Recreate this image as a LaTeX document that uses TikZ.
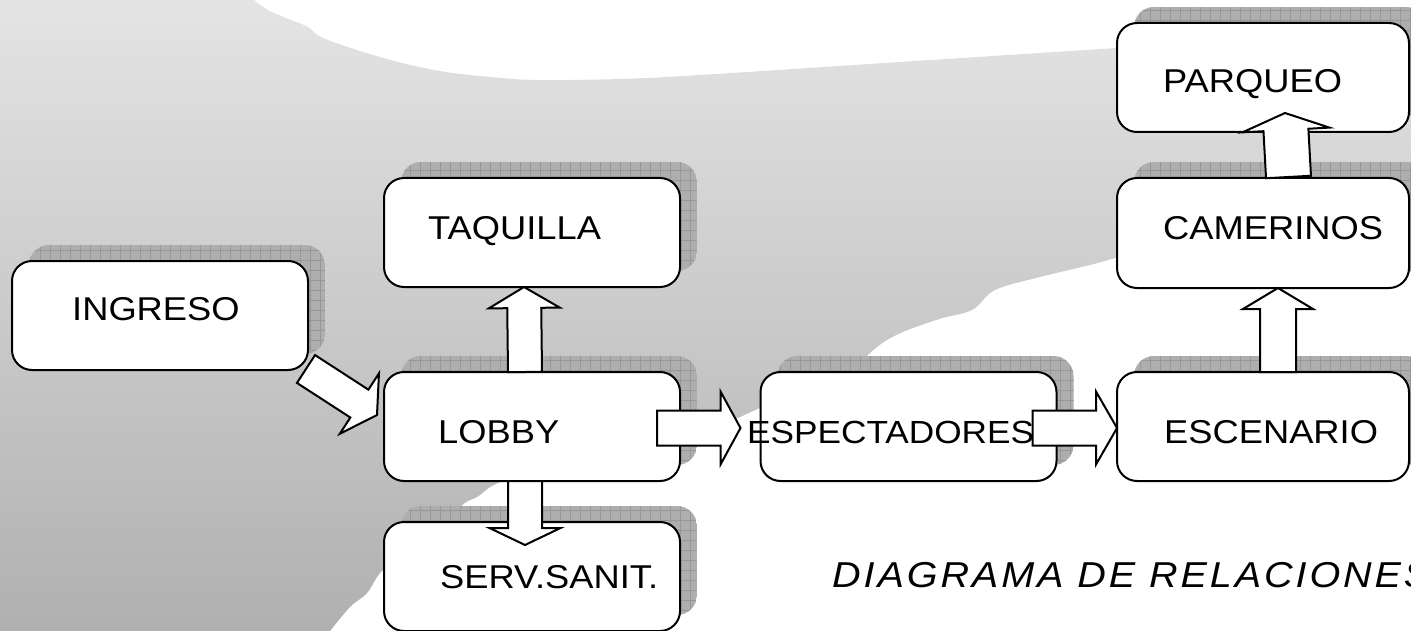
\documentclass[tikz,border=0pt]{standalone}
\usepackage{fontspec}
\setmainfont[FakeStretch=1.1]{Liberation Sans}
\newfontfamily\ttlfont[FakeStretch=1.1,LetterSpace=8]{Liberation Sans}
\usetikzlibrary{calc}
\pgfdeclarelayer{back}\pgfdeclarelayer{shad}\pgfdeclarelayer{mid}
\pgfsetlayers{back,shad,mid,main}
\definecolor{bgA}{HTML}{E4E4E4}
\definecolor{bgB}{HTML}{D6D6D6}
\definecolor{bgC}{HTML}{B0B0B0}
\definecolor{shadc}{HTML}{AEAEAE}
\definecolor{gridc}{HTML}{979797}
\newcommand\shadowof[1]{%
  \begin{scope}
    \clip[rounded corners=20pt] ([shift={(17,-16)}]#1.south west) rectangle ([shift={(17,-16)}]#1.north east);
    \fill[shadc] ([shift={(17,-16)}]#1.south west) rectangle ([shift={(17,-16)}]#1.north east);
    \draw[gridc,line width=0.5pt,step=10pt] ([shift={(17,-16)}]#1.south west) grid ([shift={(17,-16)}]#1.north east);
  \end{scope}}
\newcommand\blockarrow[5]{%
  \coordinate (hb) at ($#2!#5pt!#1$);
  \draw[blk] ($#1!#3pt!90:#2$) -- ($(hb)!#3pt!90:#2$) -- ($(hb)!#4pt!90:#2$) -- #2
    -- ($(hb)!#4pt!-90:#2$) -- ($(hb)!#3pt!-90:#2$) -- ($#1!#3pt!-90:#2$) -- cycle;}
\begin{document}
\begin{tikzpicture}[x=1pt,y=-1pt,
  box/.style={draw=black, line width=2pt, fill=white, rounded corners=20pt,
    minimum width=296pt, minimum height=109pt, inner sep=0pt, outer sep=0pt},
  lbl/.style={anchor=base west, inner sep=0pt, font=\fontsize{33}{38}\selectfont},
  ttl/.style={anchor=base west, inner sep=0pt, font=\fontsize{36}{42}\selectfont\ttlfont\itshape},
  blk/.style={draw=black, line width=2pt, fill=white, line join=miter}]
\useasboundingbox (0,0) rectangle (1411,631);
\begin{pgfonlayer}{back}
\fill[white] (0,0) rectangle (1411,631);
\shade[top color=bgA, middle color=bgB, bottom color=bgC]
  (0,0) -- (254,0) -- plot[smooth, tension=0.6] coordinates {(254,0) (268,10) (286,18) (308,27) (321,37) (357,50) (402,63) (446,72) (491,77) (536,80) (620,79) (700,75) (900,62) (1117,48)}
  -- (1411,48) -- (1411,240) -- (1115,258)
  -- plot[smooth, tension=0.6] coordinates {(1115,258) (1090,265) (1040,277) (995,290) (972,310) (936,320) (887,340) (840,377) (783,398) (740,417) (697,437) (600,462) (507,480) (477,497) (460,507) (413,553) (383,570) (367,593) (350,607) (330,631)}
  -- (0,631) -- cycle;
\end{pgfonlayer}
% boxes
\node[box] (ingreso) at (160,315.5) {};
\node[box] (taquilla) at (532,232.5) {};
\node[box] (lobby) at (532,426.5) {};
\node[box] (serv) at (532,576.5) {};
\node[box] (espect) at (908.5,426.5) {};
\node[box, minimum width=292pt] (escen) at (1263,426.5) {};
\node[box, minimum width=292pt, minimum height=110pt] (camer) at (1263,233) {};
\node[box, minimum width=292pt] (parq) at (1263,77.5) {};
% shadows
\begin{pgfonlayer}{shad}
\shadowof{ingreso}\shadowof{taquilla}\shadowof{lobby}\shadowof{serv}
\shadowof{espect}\shadowof{escen}\shadowof{camer}\shadowof{parq}
\end{pgfonlayer}
% arrow behind lobby
\coordinate (a1) at ([shift={(-2,-1)}]ingreso.south east);
\coordinate (b1) at ([shift={(-7,-11.5)}]lobby.west);
\begin{pgfonlayer}{mid}
\blockarrow{(a1)}{(b1)}{16.6}{36}{21}
\end{pgfonlayer}
% other arrows
\coordinate (a2) at ([xshift=-7pt]lobby.north);
\coordinate (b2) at ([xshift=-8pt]taquilla.south);
\blockarrow{(a2)}{(b2)}{17}{35.5}{21}
\coordinate (a3) at ([xshift=-7pt]lobby.south);
\coordinate (b3) at ([shift={(-7,23)}]serv.north);
\blockarrow{(a3)}{(b3)}{17}{35.5}{17}
\coordinate (a4) at ([shift={(-23,1.5)}]lobby.east);
\coordinate (b4) at ([shift={(-20,1.5)}]espect.west);
\blockarrow{(a4)}{(b4)}{17.5}{36.5}{20}
\coordinate (a5) at ([shift={(-24,1.5)}]espect.east);
\coordinate (b5) at ([shift={(0,1.5)}]escen.west);
\blockarrow{(a5)}{(b5)}{17.5}{36.5}{21}
\coordinate (a6) at ([xshift=15pt]escen.north);
\coordinate (b6) at ([xshift=15pt]camer.south);
\blockarrow{(a6)}{(b6)}{18}{35}{21}
\coordinate (a7) at ([shift={(25.5,-1)}]camer.north);
\coordinate (b7) at ([shift={(22,-19)}]parq.south);
\blockarrow{(a7)}{(b7)}{22.5}{43.5}{17}
% labels
\node[lbl] (tingreso) at (72,320) {INGRESO};
\node[lbl] (ttaquilla) at (428,240) {TAQUILLA};
\node[lbl] (tlobby) at (438,443) {LOBBY};
\node[lbl] (tserv) at (440,588) {SERV.SANIT.};
\node[lbl, font=\fontsize{32}{38}\selectfont] (tespect) at (747,443) {ESPECTADORES};
\node[lbl] (tescen) at (1164,443) {ESCENARIO};
\node[lbl] (tcamer) at (1163,240) {CAMERINOS};
\node[lbl] (tparq) at (1163,93) {PARQUEO};
\node[ttl] (title) at (832,587) {DIAGRAMA DE RELACIONES};
\end{tikzpicture}
\end{document}
